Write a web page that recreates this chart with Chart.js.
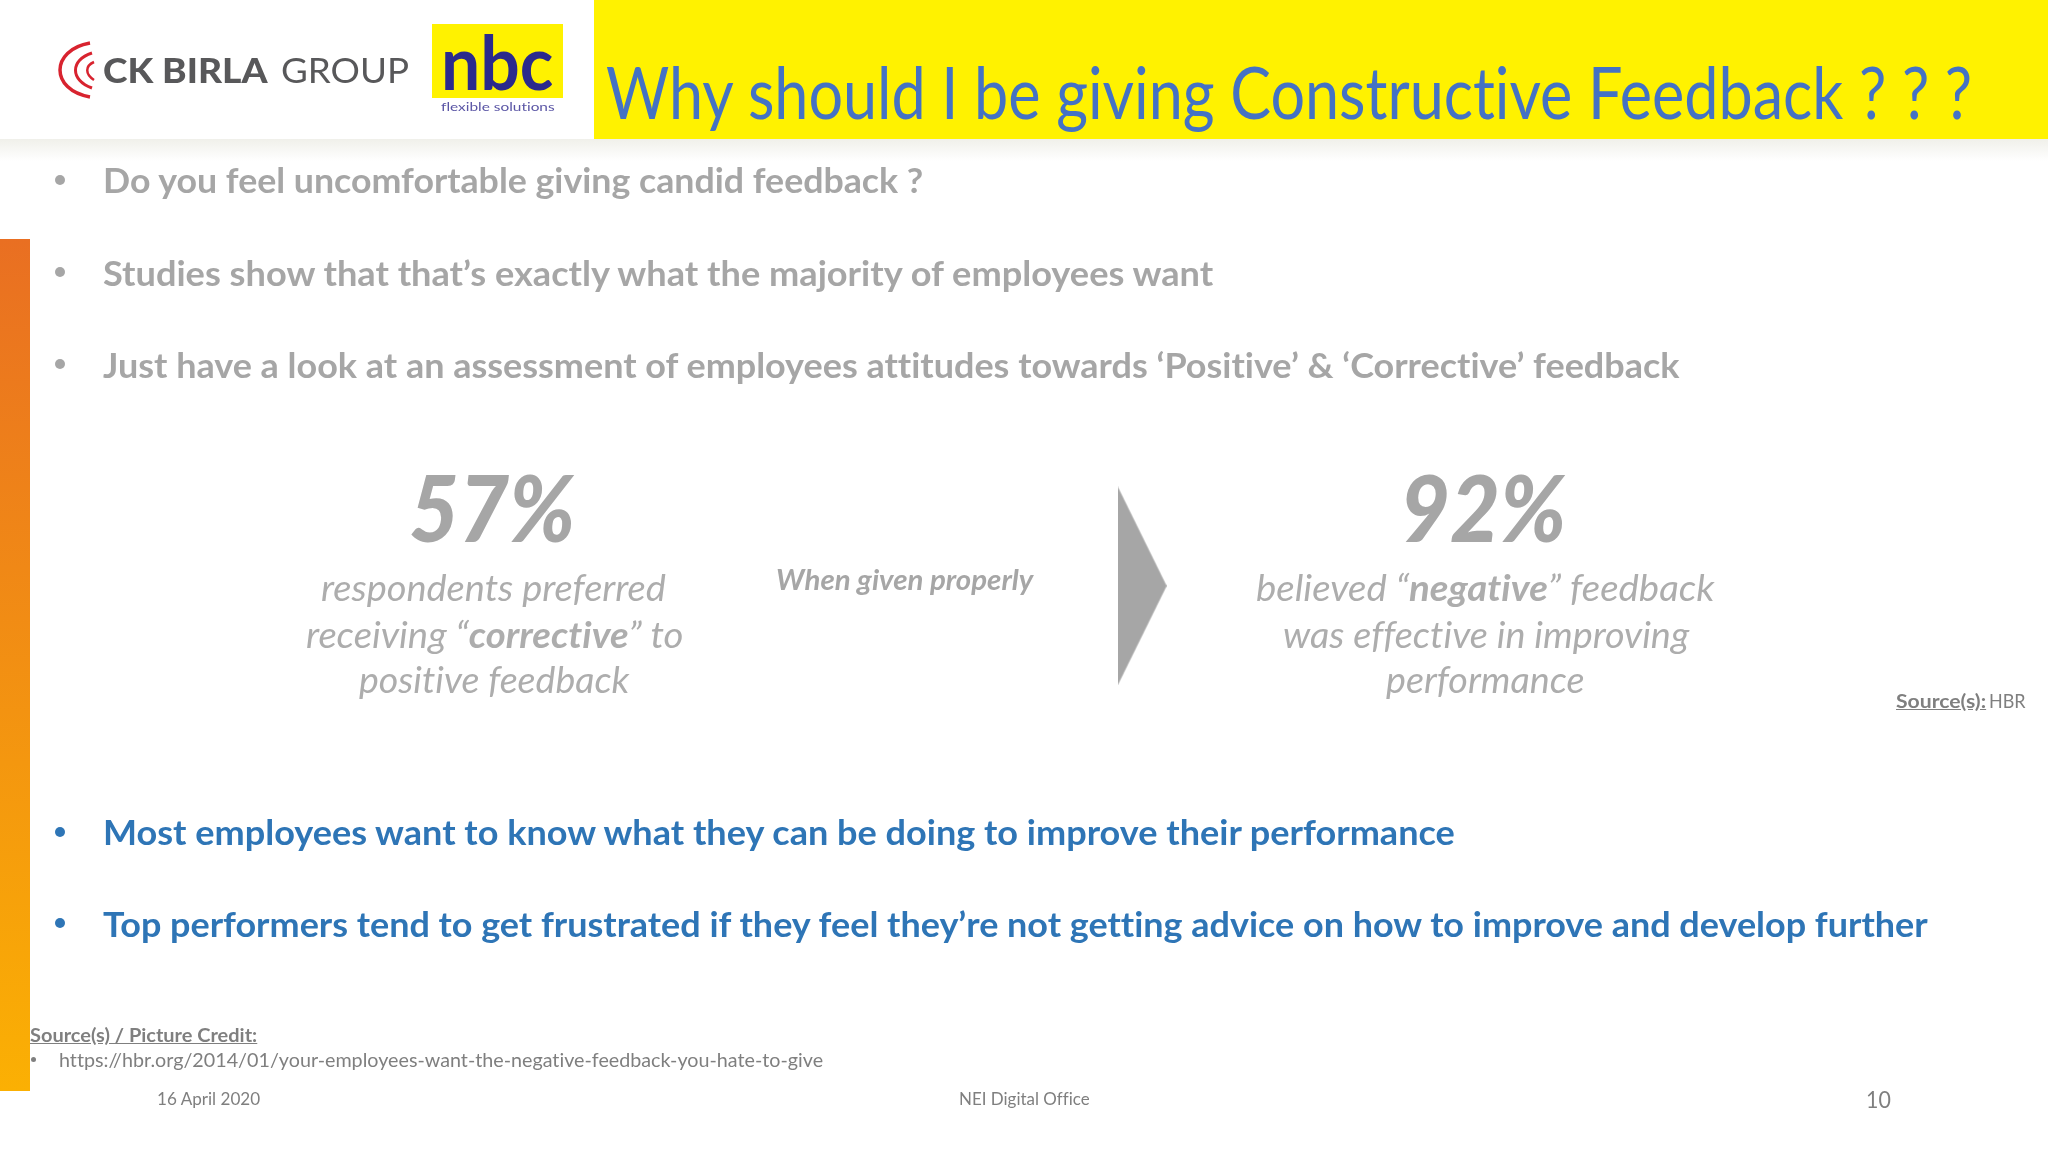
<!DOCTYPE html>
<html><head><meta charset="utf-8">
<script src="https://cdn.jsdelivr.net/npm/chart.js@4"></script>
<style>
html,body{margin:0;padding:0;background:#fff;width:2048px;height:1152px;overflow:hidden}
#stage{position:relative;width:2048px;height:1152px;overflow:hidden;font-family:Lato,"Open Sans",sans-serif;font-variant-ligatures:none}
#chartBox{position:absolute;left:0;top:0;width:2048px;height:1152px}
.t{position:absolute;white-space:nowrap;transform-origin:0 0;line-height:1}
#yellow{position:absolute;left:594px;top:0;width:1454px;height:139px;background:#fff200}
#shadow{position:absolute;left:0;top:139px;width:2048px;height:22px;background:linear-gradient(#f0f0ea,#fff)}
#rail{position:absolute;left:0;top:239px;width:30px;height:852px;background:linear-gradient(#e96f22,#fbb003)}
#nbc{position:absolute;left:432px;top:24px;width:131px;height:74px;background:#fff200}
svg{position:absolute;left:0;top:0}
</style></head>
<body><div id="stage">
<div id="shadow"></div><div id="yellow"></div><div id="rail"></div><div id="nbc"></div>
<svg width="600" height="140">
<g fill="none" stroke="#d8232f">
<path d="M90 43 C50 50 50 90 90 97" stroke-width="3.5"/>
<path d="M92 53 C70 60 70 80 92 88" stroke-width="3"/>
<path d="M94 62 C85 66 85 74 94 80" stroke-width="2.5"/>
</g></svg>
<div id="chartBox"><canvas id="c"></canvas></div>
<div id="texts"></div>
</div>
<script>
const statValues=[57,92];
const statCentersX=[488,1486];
const statBaselineY=[540,540];
const arrowX=[1143];
const arrowY=[586];
const bulletsGrey=["Do you feel uncomfortable giving candid feedback ?","Studies show that that\u2019s exactly what the majority of employees want","Just have a look at an assessment of employees attitudes towards \u2018Positive\u2019 & \u2018Corrective\u2019 feedback"];
const bulletsBlue=["Most employees want to know what they can be doing to improve their performance","Top performers tend to get frustrated if they feel they\u2019re not getting advice on how to improve and develop further"];

const k=2048/1568, GREY='#a6a6a6', BLUE='#2e75b6', DARK='#7f7f7f';
// [html, left, right, baseline, size, weight, style, colour] – left/right/baseline in 1568-wide slide units
const items=[
["Why should I be giving Constructive Feedback ? ? ?",464,1510,89.5,72,400,'normal','#4472c4'],
["CK BIRLA",79,205,63,35,900,'normal','#58585a'],
["GROUP",215,313,63,35,400,'normal','#58585a'],
["nbc",338,424,67.5,74,700,'normal','#2b2a8c'],
["flexible solutions",338,425,85,12,400,'normal','#5a55a5'],
[bulletsGrey[0],79,707,147,35,700,'normal',GREY],
[bulletsGrey[1],79,929,218,35,700,'normal',GREY],
[bulletsGrey[2],79,1286,289,35,700,'normal',GREY],
["respondents preferred",246,510,459,37,400,'italic','#adadad'],
["receiving \u201c<b>corrective</b>\u201d to",234,523,495,37,400,'italic','#adadad'],
["positive feedback",275,482,530,37,400,'italic','#adadad'],
["When given properly",594,791,451,28,700,'italic',GREY],
["believed \u201c<b>negative</b>\u201d feedback",962,1313,459,37,400,'italic','#adadad'],
["was effective in improving",982,1293,495,37,400,'italic','#adadad'],
["performance",1061,1213,530,37,400,'italic','#adadad'],
["<b><u>Source(s):</u></b>",1452,1521,541.5,19,400,'normal',DARK],
["HBR",1523,1551,541.5,19,400,'normal',DARK],
[bulletsBlue[0],79,1114,646,35,700,'normal',BLUE],
[bulletsBlue[1],79,1476,717,35,700,'normal',BLUE],
["<u>Source(s) / Picture Credit:</u>",23,197,797,19,700,'normal',DARK],
["https://hbr.org/2014/01/your-employees-want-the-negative-feedback-you-hate-to-give",45,630,816.5,19,400,'normal',DARK],
["16 April 2020",120,199,846,18,400,'normal',DARK],
["NEI Digital Office",734,834,846,18,400,'normal',DARK],
["10",1429,1448,848,24,400,'normal',DARK]
];
const dots=[[46,138,GREY],[46,208,GREY],[46,279,GREY],[46,637,BLUE],[46,707,BLUE]];

const box=document.getElementById('texts');
function place(html,l,r,base,size,weight,style,color){
  const d=document.createElement('div');d.className='t';d.innerHTML=html;
  d.style.cssText=`font-size:${size}px;font-weight:${weight};font-style:${style};color:${color}`;
  box.appendChild(d);
  const w=d.getBoundingClientRect().width;
  const asc=size*0.86; // Lato baseline inside a line-height:1 box
  d.style.left=(l*k)+'px';
  d.style.top=(base*k-asc)+'px';
  d.style.transform=`scaleX(${((r-l)*k)/w})`;
}
items.forEach(it=>place(...it));
dots.forEach(([x,y,c])=>{const s=document.createElement('div');
 s.style.cssText=`position:absolute;left:${x*k-5}px;top:${y*k-5}px;width:10px;height:10px;border-radius:50%;background:${c}`;box.appendChild(s);});
const sb=document.createElement('div');
sb.style.cssText=`position:absolute;left:${23*k+1}px;top:${811*k-2}px;width:5px;height:5px;border-radius:50%;background:${DARK}`;box.appendChild(sb);

// right-pointing arrow used as the point marker
const arrow=document.createElement('canvas');arrow.width=49;arrow.height=199;
const a=arrow.getContext('2d');a.fillStyle=GREY;a.beginPath();a.moveTo(0,0);a.lineTo(49,99.5);a.lineTo(0,199);a.closePath();a.fill();

// big percentages: placed through the chart's own scales
const statLabels={id:'statLabels',afterRender(chart){
  const sx=chart.scales.x, sy=chart.scales.y;
  statValues.forEach((v,i)=>{
    let d=document.getElementById('stat'+i);
    if(!d){d=document.createElement('div');d.id='stat'+i;d.className='t';d.textContent=v+'%';
      d.style.cssText='font-size:92px;font-weight:900;font-style:italic;color:'+GREY;box.appendChild(d);}
    const w=d.offsetWidth, target=166;
    d.style.left=(sx.getPixelForValue(statCentersX[i])-target/2)+'px';
    d.style.top=(sy.getPixelForValue(statBaselineY[i])-92*0.86)+'px';
    d.style.transform=`scaleX(${target/w})`;
  });
}};
new Chart(document.getElementById('c'),{
  type:'scatter',
  data:{datasets:[{label:'arrow',data:arrowX.map((x,i)=>({x,y:arrowY[i]})),pointStyle:arrow,pointRadius:6,showLine:false}]},
  options:{responsive:true,maintainAspectRatio:false,animation:false,
    layout:{padding:0},
    plugins:{legend:{display:false},tooltip:{enabled:false}},
    scales:{x:{type:'linear',min:0,max:2048,display:false},y:{type:'linear',min:0,max:1152,reverse:true,display:false}}},
  plugins:[statLabels]
});
</script>
</body></html>
